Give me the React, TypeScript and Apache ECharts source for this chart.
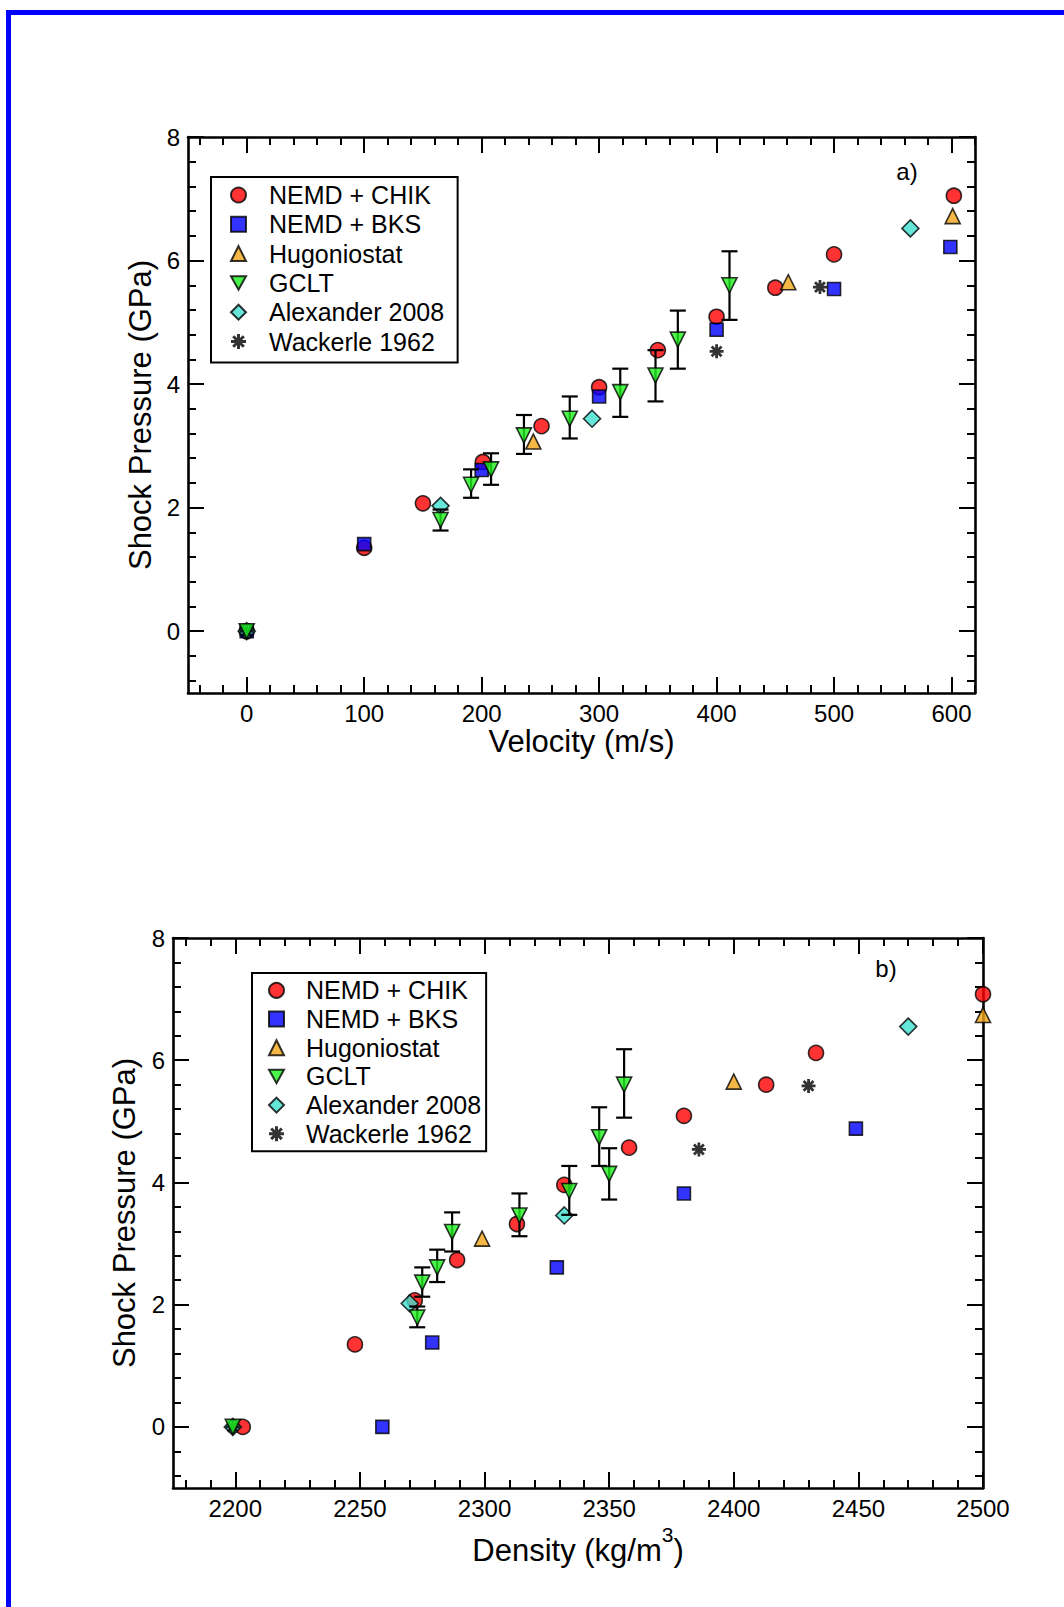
import React, { useEffect, useRef } from "react";
import * as echarts from "echarts";

const FONT = '"Liberation Sans", Arial, Helvetica, sans-serif';

const seriesNames = ["NEMD + CHIK", "NEMD + BKS", "Hugoniostat", "GCLT", "Alexander 2008", "Wackerle 1962"];

// ---------- Panel a) : particle velocity (m/s) vs shock pressure (GPa)
const chikVel = [[0, 0], [100, 1.35], [150, 2.07], [201, 2.74], [251, 3.32], [300, 3.95], [350, 4.55], [400, 5.09], [450, 5.56], [500, 6.10], [602, 7.05]];
const bksVel = [[0, 0], [100, 1.41], [200, 2.61], [300, 3.80], [400, 4.88], [500, 5.54], [599, 6.22]];
const hugoVel = [[244, 3.07], [461, 5.65], [601, 6.72]];
// [velocity, pressure, errLow, errHigh]
const gcltVel = [[0, 0, 0, 0], [165, 1.80, 1.63, 1.97], [191, 2.37, 2.16, 2.62], [208, 2.62, 2.37, 2.88], [236, 3.17, 2.87, 3.50], [275, 3.44, 3.12, 3.80], [318, 3.87, 3.47, 4.25], [348, 4.14, 3.72, 4.55], [367, 4.72, 4.25, 5.19], [411, 5.60, 5.04, 6.15]];
const alexVel = [[0, 0], [165, 2.03], [294, 3.44], [565, 6.52]];
const wackVel = [[0, 0], [400, 4.53], [488, 5.57]];

// ---------- Panel b) : density (kg/m3) vs shock pressure (GPa)
const chikDen = [[2203, 0], [2248, 1.35], [2272, 2.07], [2289, 2.73], [2313, 3.32], [2332, 3.96], [2358, 4.57], [2380, 5.09], [2413, 5.60], [2433, 6.12], [2500, 7.08]];
const bksDen = [[2259, 0], [2279, 1.38], [2329, 2.61], [2380, 3.82], [2449, 4.88]];
const hugoDen = [[2299, 3.08], [2400, 5.65], [2500, 6.74]];
const gcltDen = [[2199, 0, 0, 0], [2273, 1.79, 1.63, 1.97], [2275, 2.36, 2.13, 2.61], [2281, 2.61, 2.37, 2.90], [2287, 3.19, 2.87, 3.51], [2314, 3.46, 3.12, 3.82], [2334, 3.86, 3.47, 4.27], [2350, 4.14, 3.72, 4.56], [2346, 4.74, 4.27, 5.23], [2356, 5.60, 5.06, 6.18]];
const alexDen = [[2199, 0], [2270, 2.02], [2332, 3.46], [2470, 6.55]];
const wackDen = [[2199, 0], [2386, 4.54], [2430, 5.58]];

// ---------- Axis ticks
const velTicks = [0, 100, 200, 300, 400, 500, 600];
const densityTicks = [2200, 2250, 2300, 2350, 2400, 2450, 2500];
const pressureTicks = [0, 2, 4, 6, 8];

function minorTicks(from: number, to: number, step: number, majors: number[]) {
  const out: number[] = [];
  const n = Math.round((to - from) / step);
  for (let i = 0; i <= n; i++) {
    const v = Math.round((from + i * step) * 1000) / 1000;
    if (!majors.includes(v)) out.push(v);
  }
  return out;
}
const velMinor = minorTicks(-40, 620, 20, velTicks);
const densityMinor = minorTicks(2180, 2490, 10, densityTicks);
const pressureMinor = minorTicks(-0.8, 8, 0.4, pressureTicks);

function asteriskPath(): string {
  const w = 0.2;
  const parts: string[] = [];
  for (const deg of [0, 45, 90, 135]) {
    const a = (deg * Math.PI) / 180;
    const c = Math.cos(a), s = Math.sin(a);
    const pts = [[-1, -w], [1, -w], [1, w], [-1, w]].map(([x, y]) => [x * c - y * s, x * s + y * c]);
    parts.push("M" + pts.map((p) => p[0].toFixed(3) + " " + p[1].toFixed(3)).join(" L") + " Z");
  }
  return "path://" + parts.join(" ");
}
const STAR = asteriskPath();
const DOWN_TRIANGLE = "path://M0 0 L2 0 L1 1.8 Z";

function buildAxes(dim: "x" | "y", gridIndex: number, min: number, max: number, majors: number[], minors: number[], name: string, nameGap: number, nameTextStyle: any) {
  const mainPos = dim === "x" ? "bottom" : "left";
  const otherPos = dim === "x" ? "top" : "right";
  const base = { type: "value", gridIndex, min, max, splitLine: { show: false } };
  const line = { show: true, onZero: false, lineStyle: { color: "#000", width: 2.6 } };
  const noLine = { show: false, onZero: false };
  const majorTick = { show: true, inside: true, length: 16, customValues: majors, lineStyle: { color: "#000", width: 2 } };
  const minorTick = { show: true, inside: true, length: 8, customValues: minors, lineStyle: { color: "#000", width: 2 } };
  return [
    {
      ...base, position: mainPos, axisLine: line, axisTick: majorTick,
      axisLabel: { show: true, customValues: majors, fontSize: 24, color: "#000", fontFamily: FONT, margin: 8, formatter: (v: number) => String(v) },
      name, nameLocation: "middle", nameGap, nameTextStyle,
    },
    { ...base, position: mainPos, axisLine: noLine, axisTick: minorTick, axisLabel: { show: false } },
    { ...base, position: otherPos, axisLine: line, axisTick: majorTick, axisLabel: { show: false } },
    { ...base, position: otherPos, axisLine: noLine, axisTick: minorTick, axisLabel: { show: false } },
  ];
}

const titleStyle = { fontSize: 31, color: "#000", fontFamily: FONT };

function scatterSeries(g: number, chik: number[][], bks: number[][], hugo: number[][], gclt: number[][], alex: number[][], wack: number[][]) {
  const axis = { xAxisIndex: g * 4, yAxisIndex: g * 4 };
  const border = { borderColor: "#000", borderWidth: 1.6 };
  return [
    { type: "scatter", name: seriesNames[0], ...axis, data: chik, symbol: "circle", symbolSize: 15, itemStyle: { color: "#ff0000", ...border }, z: 2 },
    { type: "scatter", name: seriesNames[1], ...axis, data: bks, symbol: "rect", symbolSize: 13, itemStyle: { color: "#0000ff", ...border }, z: 3 },
    { type: "scatter", name: seriesNames[2], ...axis, data: hugo, symbol: "triangle", symbolSize: 15, itemStyle: { color: "#f2a516", ...border }, z: 4 },
    { type: "scatter", name: seriesNames[3], ...axis, data: gclt.map((d) => [d[0], d[1]]), symbol: DOWN_TRIANGLE, symbolSize: 15, itemStyle: { color: "#1ef01e", ...border }, z: 7 },
    { type: "scatter", name: seriesNames[4], ...axis, data: alex, symbol: "diamond", symbolSize: 17, itemStyle: { color: "#40e0d0", ...border }, z: 5 },
    { type: "scatter", name: seriesNames[5], ...axis, data: wack, symbol: STAR, symbolSize: 14, itemStyle: { color: "#000", borderWidth: 0 }, z: 5 },
    {
      type: "custom", name: "GCLT error", ...axis, data: gclt, z: 6,
      encode: { x: 0, y: [2, 3] },
      renderItem: (_params: any, api: any) => {
        const x = api.value(0), lo = api.value(2), hi = api.value(3);
        if (lo === hi) return { type: "group", children: [] };
        const a = api.coord([x, lo]);
        const b = api.coord([x, hi]);
        const cap = 8;
        const st = { stroke: "#000", lineWidth: 2.2 };
        return {
          type: "group",
          children: [
            { type: "line", shape: { x1: a[0], y1: a[1], x2: b[0], y2: b[1] }, style: st },
            { type: "line", shape: { x1: a[0] - cap, y1: a[1], x2: a[0] + cap, y2: a[1] }, style: st },
            { type: "line", shape: { x1: b[0] - cap, y1: b[1], x2: b[0] + cap, y2: b[1] }, style: st },
          ],
        };
      },
    },
  ];
}

function legendFor(left: number, top: number, padding: number[], itemGap: number, textPad: number) {
  return {
    data: seriesNames.map((n) => ({ name: n })),
    orient: "vertical",
    left, top, padding, itemGap,
    itemWidth: 15, itemHeight: 15,
    borderColor: "#000", borderWidth: 2,
    backgroundColor: "#fff",
    selectedMode: false,
    textStyle: { fontSize: 25, lineHeight: 25, color: "#000", fontFamily: FONT, padding: [0, 0, 0, textPad] },
  };
}

export default function App() {
  const ref = useRef<HTMLDivElement>(null);
  useEffect(() => {
    if (!ref.current) return;
    const chart = echarts.init(ref.current, undefined, { renderer: "svg" });
    const option: any = {
      animation: false,
      backgroundColor: "#fff",
      grid: [
        { left: 188, top: 137, width: 787, height: 556 },
        { left: 173, top: 938, width: 810, height: 550 },
      ],
      xAxis: [
        ...buildAxes("x", 0, -50, 620, velTicks, velMinor, "Velocity (m/s)", 32, titleStyle),
        ...buildAxes("x", 1, 2175, 2500, densityTicks, densityMinor, "{a|Density (kg/m}{s|3}{a|)}", 36, {
          ...titleStyle,
          rich: {
            a: { fontSize: 31, fontFamily: FONT, color: "#000", lineHeight: 42, verticalAlign: "bottom" },
            s: { fontSize: 21, fontFamily: FONT, color: "#000", lineHeight: 21, verticalAlign: "top" },
          },
        }),
      ],
      yAxis: [
        ...buildAxes("y", 0, -1, 8, pressureTicks, pressureMinor, "Shock Pressure (GPa)", 32, titleStyle),
        ...buildAxes("y", 1, -1, 8, pressureTicks, pressureMinor, "Shock Pressure (GPa)", 33, titleStyle),
      ],
      legend: [
        legendFor(211, 177, [5.5, 13.5, 8.5, 19], 4.3, 18),
        legendFor(252, 973, [4.8, 5, 5, 16], 3.7, 17),
      ],
      graphic: [
        { type: "rect", shape: { x: 6, y: 10, width: 5, height: 1597 }, style: { fill: "#0000ff" } },
        { type: "rect", shape: { x: 6, y: 10, width: 1058, height: 5 }, style: { fill: "#0000ff" } },
        { type: "text", x: 907, y: 171, style: { text: "a)", fontSize: 24, fontFamily: FONT, fill: "#000", align: "center", verticalAlign: "middle" } },
        { type: "text", x: 886, y: 968, style: { text: "b)", fontSize: 24, fontFamily: FONT, fill: "#000", align: "center", verticalAlign: "middle" } },
      ],
      series: [
        ...scatterSeries(0, chikVel, bksVel, hugoVel, gcltVel, alexVel, wackVel),
        ...scatterSeries(1, chikDen, bksDen, hugoDen, gcltDen, alexDen, wackDen),
      ],
    };
    chart.setOption(option);
    return () => chart.dispose();
  }, []);
  return (
    <div
      ref={ref}
      style={{ position: "absolute", left: 0, top: 0, width: 1064, height: 1607, background: "#fff" }}
    />
  );
}
